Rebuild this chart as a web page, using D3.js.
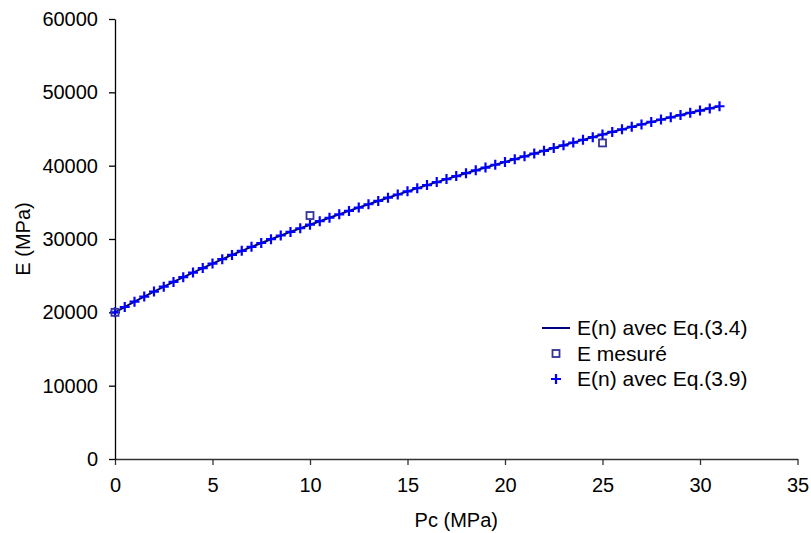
<!DOCTYPE html>
<html>
<head>
<meta charset="utf-8">
<script src="https://cdn.jsdelivr.net/npm/d3@7"></script>
<style>
  body { margin: 0; background: #fff; }
  text { font-family: "Liberation Sans", Arial, sans-serif; }
</style>
</head>
<body>
<div id="chart"></div>
<script>
// Pc (MPa) for the Eq.(3.4) line, one point per MPa
const pcLine = d3.range(0, 32);
const eq34Values = [20000, 21450, 22830, 24150, 25420, 26650, 27830, 28930, 29970, 30970,
    31950, 32900, 33830, 34740, 35630, 36500, 37350, 38170, 38970, 39745,
    40500, 41270, 42030, 42780, 43520, 44250, 44950, 45630, 46280, 46900,
    47510, 48100];

// Pc (MPa) for the Eq.(3.9) markers, every 0.5 MPa
const pcPlus = d3.range(0, 31.01, 0.5);
const eq39Values = [20000, 20730, 21450, 22145, 22830, 23495, 24150, 24790, 25420, 26040,
    26650, 27245, 27830, 28385, 28930, 29455, 29970, 30475, 30970, 31465,
    31950, 32430, 32900, 33370, 33830, 34290, 34740, 35190, 35630, 36070,
    36500, 36930, 37350, 37765, 38170, 38575, 38970, 39360, 39745, 40125,
    40500, 40890, 41270, 41655, 42030, 42410, 42780, 43155, 43520, 43890,
    44250, 44605, 44950, 45295, 45630, 45960, 46280, 46595, 46900, 47210,
    47510, 47810, 48100];

// Measured values
const pcMeasured = [0, 10, 25];
const eMeasured = [20000, 33200, 43100];

const xTicks = [0, 5, 10, 15, 20, 25, 30, 35];
const yTicks = [0, 10000, 20000, 30000, 40000, 50000, 60000];

const legendLabels = ["E(n) avec Eq.(3.4)", "E mesuré", "E(n) avec Eq.(3.9)"];

const width = 811, height = 533;
const plot = {left: 115, right: 797.5, top: 19, bottom: 459};

const svg = d3.select("#chart").append("svg")
    .attr("width", width)
    .attr("height", height);

const xScale = d3.scaleLinear().domain([0, 35]).range([plot.left, plot.right]);
const yScale = d3.scaleLinear().domain([0, 60000]).range([plot.bottom, plot.top]);

// X axis
svg.append("g")
    .attr("transform", `translate(0,${plot.bottom})`)
    .call(d3.axisBottom(xScale).tickValues(xTicks).tickSize(6).tickPadding(13).tickSizeOuter(0))
    .call(g => g.selectAll("text").style("font-size", "20px").attr("fill", "#000"))
    .call(g => g.selectAll("line, path").attr("stroke", "#333").attr("stroke-width", 1.3));

// Y axis, plain numbers without thousands separator
svg.append("g")
    .attr("transform", `translate(${plot.left},0)`)
    .call(d3.axisLeft(yScale).tickValues(yTicks).tickFormat(d3.format("d"))
        .tickSize(6).tickPadding(11).tickSizeOuter(0))
    .call(g => g.selectAll("text").style("font-size", "20px").attr("fill", "#000"))
    .call(g => g.selectAll("line, path").attr("stroke", "#000").attr("stroke-width", 1.3));

// Axis titles
svg.append("text")
    .text("Pc (MPa)")
    .attr("x", (plot.left + plot.right) / 2)
    .attr("y", 527)
    .style("text-anchor", "middle")
    .style("font-size", "20px");

svg.append("text")
    .text("E (MPa)")
    .attr("transform", `translate(30,${(plot.top + plot.bottom) / 2}) rotate(-90)`)
    .style("text-anchor", "middle")
    .style("font-size", "20px");

const plusPath = "M-5,0H5M0,-5V5";

// Eq.(3.4) line
const line = d3.line()
    .x((d, i) => xScale(pcLine[i]))
    .y((d) => yScale(d));

svg.append("path")
    .datum(eq34Values)
    .attr("d", line)
    .attr("fill", "none")
    .attr("stroke", "#000080")
    .attr("stroke-width", 2);

// Eq.(3.9) plus markers
svg.append("g")
    .selectAll("path")
    .data(pcPlus)
    .join("path")
        .attr("transform", (d, i) => `translate(${xScale(d)},${yScale(eq39Values[i])})`)
        .attr("d", plusPath)
        .attr("stroke", "#0000ff")
        .attr("stroke-width", 2.2)
        .attr("fill", "none");

// Measured squares
svg.append("g")
    .selectAll("rect")
    .data(pcMeasured)
    .join("rect")
        .attr("x", (d) => xScale(d) - 3.5)
        .attr("y", (d, i) => yScale(eMeasured[i]) - 3.5)
        .attr("width", 7)
        .attr("height", 7)
        .attr("fill", "none")
        .attr("stroke", "#333399")
        .attr("stroke-width", 1.8);

// Legend
const legend = svg.append("g").attr("transform", "translate(542,328)");
const rowGap = 25.5;

legend.append("line")
    .attr("x1", 0).attr("x2", 28)
    .attr("y1", 0).attr("y2", 0)
    .attr("stroke", "#000080")
    .attr("stroke-width", 2);

legend.append("rect")
    .attr("x", 14 - 3.5).attr("y", rowGap - 3.5)
    .attr("width", 7).attr("height", 7)
    .attr("fill", "none")
    .attr("stroke", "#333399")
    .attr("stroke-width", 1.8);

legend.append("path")
    .attr("transform", `translate(14,${rowGap * 2})`)
    .attr("d", plusPath)
    .attr("stroke", "#0000ff")
    .attr("stroke-width", 2.2);

legend.selectAll("text")
    .data(legendLabels)
    .join("text")
        .text((d) => d)
        .attr("x", 35)
        .attr("y", (d, i) => i * rowGap)
        .attr("dy", "0.35em")
        .style("font-size", "21px");
</script>
</body>
</html>
